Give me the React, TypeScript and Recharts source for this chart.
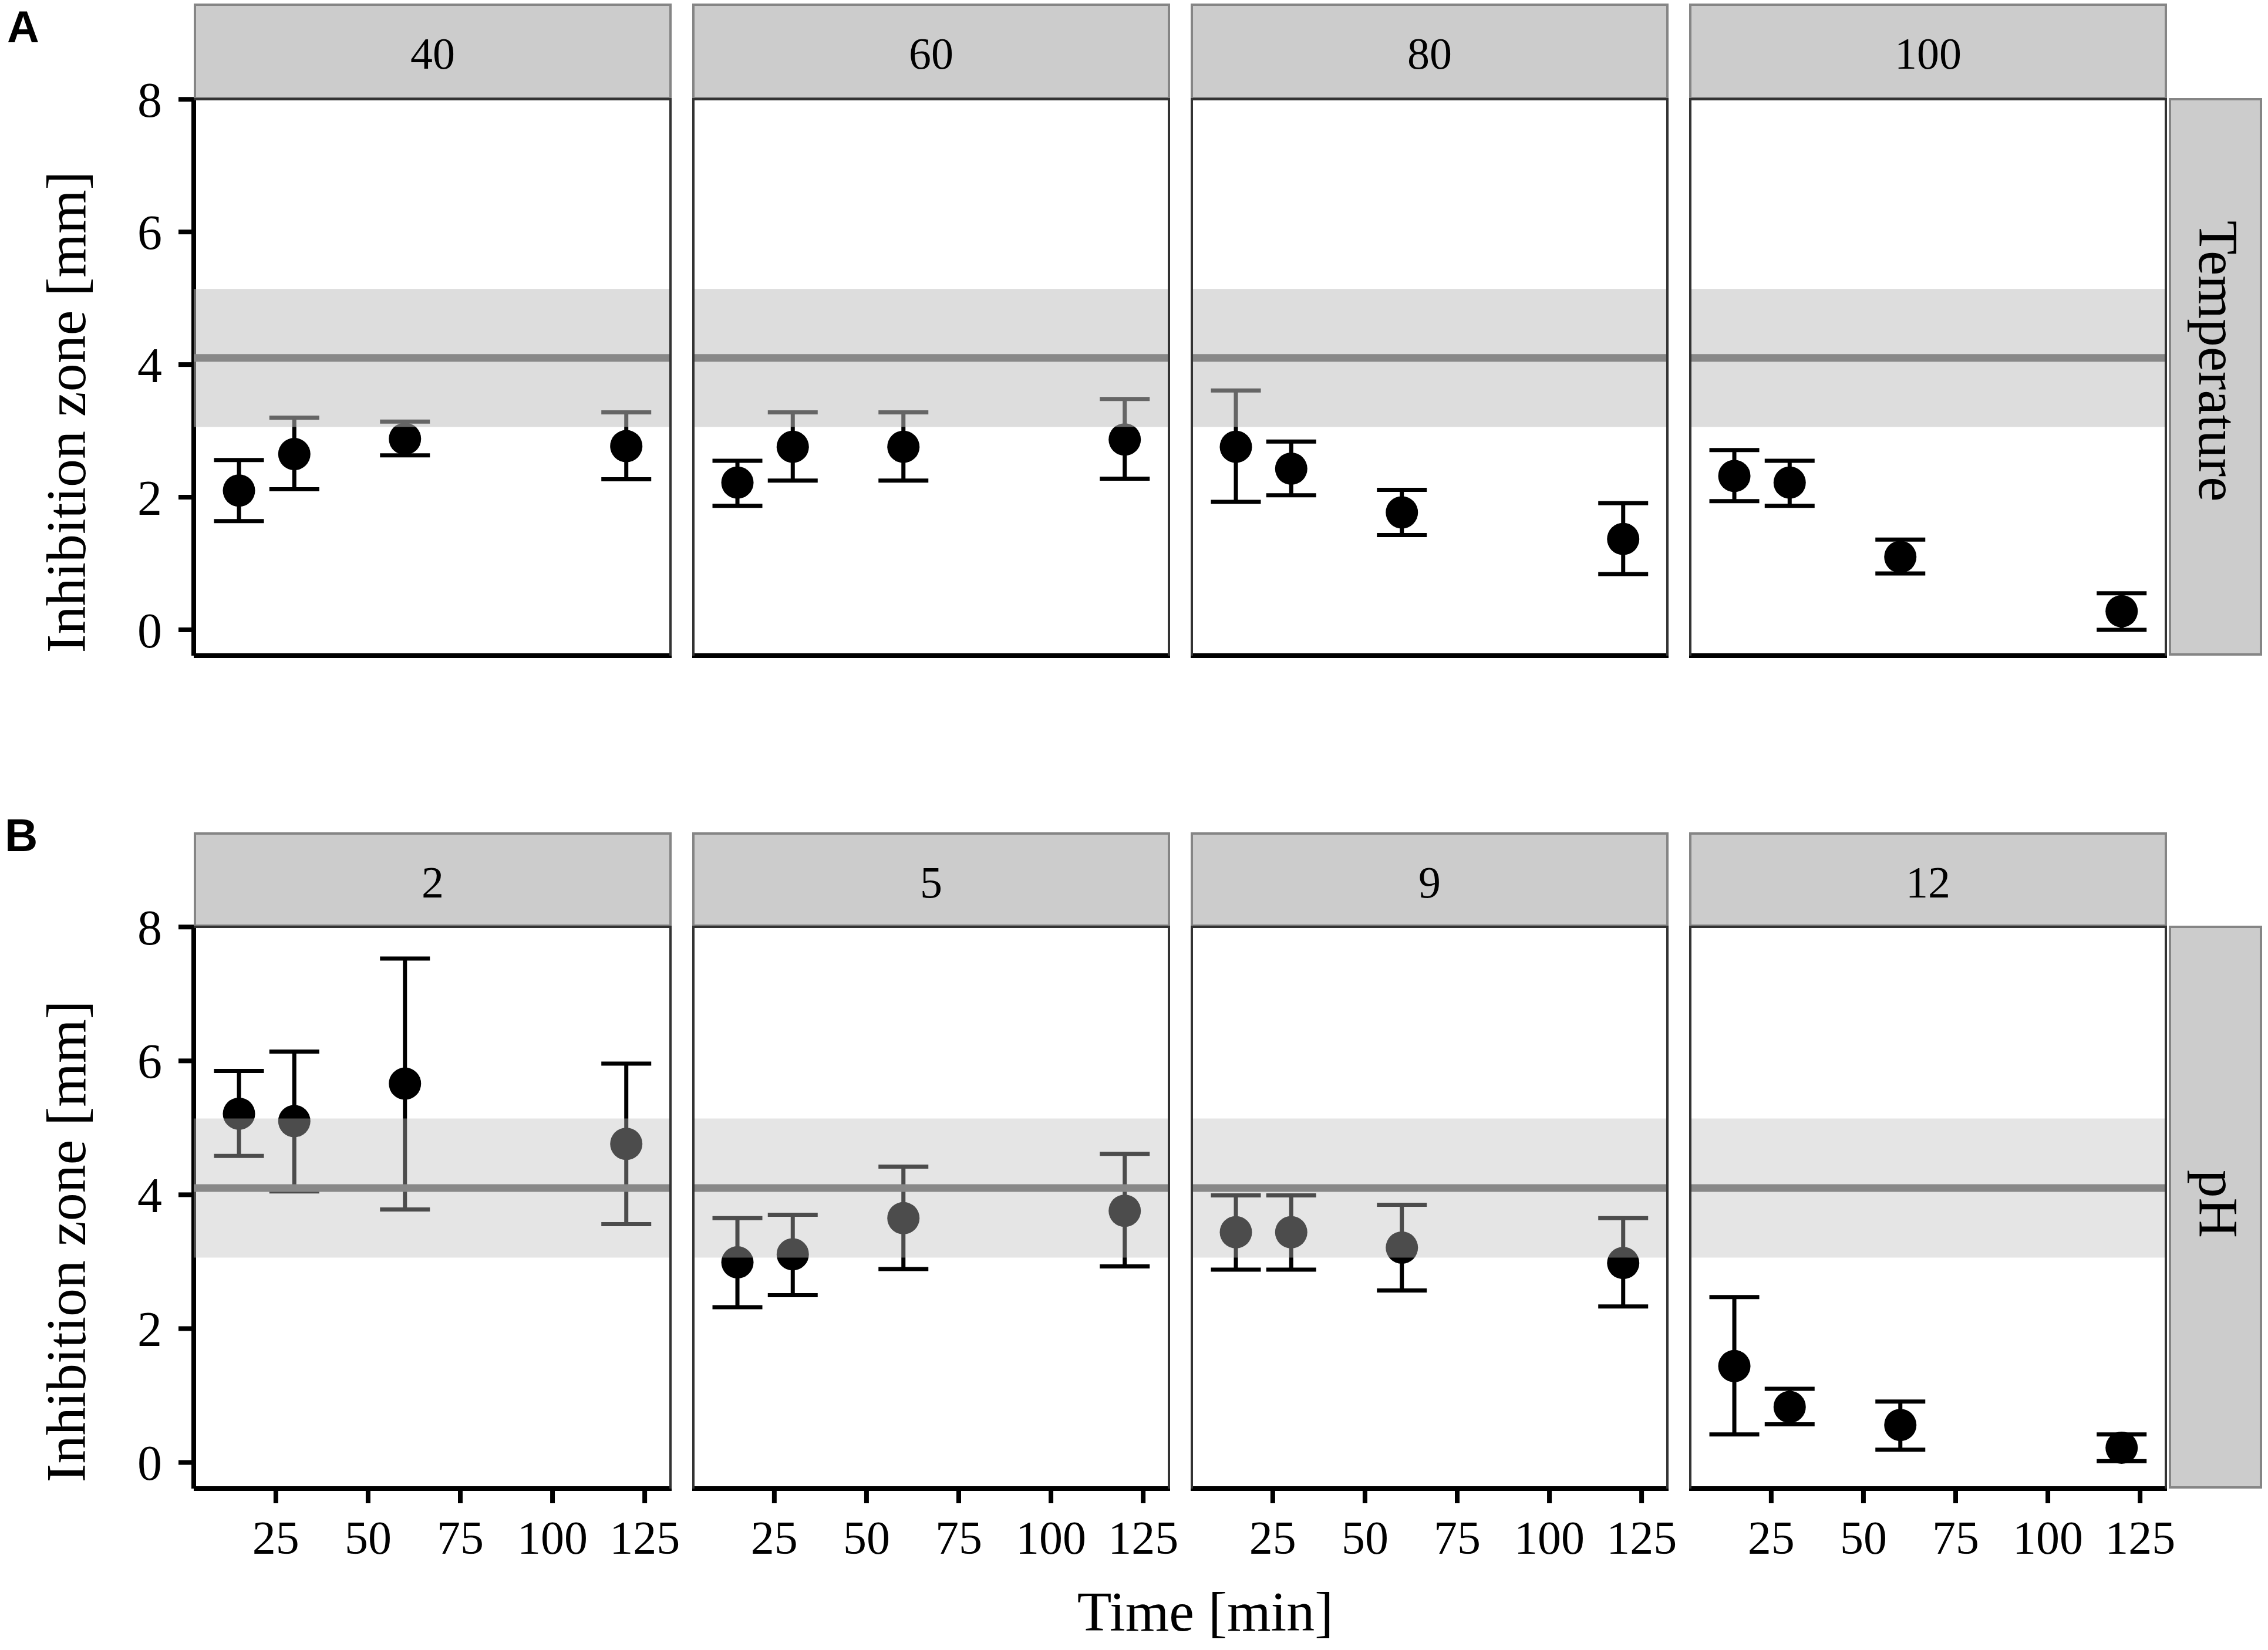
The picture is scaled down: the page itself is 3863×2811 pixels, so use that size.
import React from 'react';
import { ComposedChart, Scatter, ErrorBar, XAxis, YAxis, ReferenceArea, ReferenceLine } from 'recharts';

// sampling times (min), shared by every panel
const times = [15, 30, 60, 120];
const xTicks = [25, 50, 75, 100, 125];
const yTicks = [0, 2, 4, 6, 8];

// reference zone (mean and spread of the untreated control)
const bandLow = 3.06;
const bandHigh = 5.14;
const bandMean = 4.1;

// A: temperature treatment
const tempLabels = ['40', '60', '80', '100'];
const tempMean = [
  [2.1, 2.65, 2.88, 2.77],
  [2.22, 2.76, 2.76, 2.87],
  [2.76, 2.43, 1.77, 1.37],
  [2.32, 2.22, 1.1, 0.28],
];
const tempLow = [
  [1.64, 2.12, 2.63, 2.27],
  [1.87, 2.25, 2.25, 2.28],
  [1.93, 2.03, 1.43, 0.84],
  [1.94, 1.87, 0.85, 0.0],
];
const tempHigh = [
  [2.56, 3.2, 3.14, 3.28],
  [2.55, 3.28, 3.28, 3.48],
  [3.61, 2.84, 2.11, 1.91],
  [2.71, 2.55, 1.36, 0.55],
];

// B: pH treatment
const phLabels = ['2', '5', '9', '12'];
const phMean = [
  [5.21, 5.1, 5.66, 4.76],
  [2.99, 3.11, 3.65, 3.76],
  [3.44, 3.44, 3.21, 2.98],
  [1.44, 0.83, 0.56, 0.22],
];
const phLow = [
  [4.58, 4.05, 3.78, 3.56],
  [2.32, 2.5, 2.89, 2.93],
  [2.88, 2.88, 2.57, 2.33],
  [0.42, 0.57, 0.19, 0.02],
];
const phHigh = [
  [5.85, 6.14, 7.53, 5.96],
  [3.65, 3.7, 4.42, 4.61],
  [3.99, 3.99, 3.85, 3.65],
  [2.47, 1.1, 0.91, 0.42],
];

const SERIF = '"Liberation Serif", "DejaVu Serif", serif';
const SANS = '"Liberation Sans", Arial, sans-serif';
const PANEL_W = 814;
const COL_LEFT = [330, 1179, 2028, 2877];
const AXIS_W = 140;
const AXIS_H = 140;
const PAD = 60; // room above/right of the plot so tick labels are not clipped
const X_DOMAIN = [2.74, 132.3];
const Y_DOMAIN = [-0.39, 8.02];

const rowsA = { stripTop: 6, top: 167, height: 950, bandOpacity: 0.53 };
const rowsB = { stripTop: 1418, top: 1577, height: 959, bandOpacity: 0.4 };

const Dot = (props: any) => <circle cx={props.cx} cy={props.cy} r={27.5} fill="#000" />;

interface PanelProps {
  col: number;
  top: number;
  height: number;
  mean: number[];
  low: number[];
  high: number[];
  showX: boolean;
  bandOpacity: number;
}

const Panel: React.FC<PanelProps> = ({ col, top, height, mean, low, high, showX, bandOpacity }) => {
  const rows = times.map((t, i) => ({ t, v: mean[i], err: [mean[i] - low[i], high[i] - mean[i]] }));
  const showY = col === 0;
  const axisStroke = { stroke: '#000', strokeWidth: 8 };
  return (
    <div style={{ position: 'absolute', left: COL_LEFT[col] - AXIS_W, top: top - PAD }}>
      <ComposedChart
        width={PANEL_W + AXIS_W + PAD}
        height={height + AXIS_H + PAD}
        margin={{ top: PAD, right: PAD, bottom: 0, left: 0 }}
      >
        <XAxis
          type="number"
          dataKey="t"
          domain={X_DOMAIN}
          ticks={xTicks}
          interval={0}
          allowDataOverflow
          height={AXIS_H}
          axisLine={axisStroke}
          tickLine={showX ? axisStroke : false}
          tick={showX ? { fill: '#000', fontSize: 80, fontFamily: SERIF } : false}
          tickSize={25}
          tickMargin={29}
        />
        <YAxis
          type="number"
          dataKey="v"
          domain={Y_DOMAIN}
          ticks={yTicks}
          interval={0}
          allowDataOverflow
          width={AXIS_W}
          axisLine={showY ? axisStroke : false}
          tickLine={showY ? axisStroke : false}
          tick={showY ? { fill: '#000', fontSize: 84, fontFamily: SERIF } : false}
          tickSize={26}
          tickMargin={28}
        />
        <Scatter data={rows} dataKey="v" shape={Dot} isAnimationActive={false}>
          <ErrorBar dataKey="err" direction="y" width={42.5} strokeWidth={7} stroke="#000" isAnimationActive={false} />
        </Scatter>
        <ReferenceArea y1={bandLow} y2={bandHigh} fill="#bebebe" fillOpacity={bandOpacity} stroke="none" zIndex={1500} />
        <ReferenceLine y={bandMean} stroke="#888888" strokeWidth={13} zIndex={1600} />
      </ComposedChart>
    </div>
  );
};

const RowFrame: React.FC<{ row: typeof rowsA; labels: string[]; side: string; sideCenter: number }> = ({ row, labels, side, sideCenter }) => (
  <g>
    {labels.map((lab, c) => (
      <g key={lab}>
        <rect x={COL_LEFT[c] + 2} y={row.stripTop + 2} width={PANEL_W - 4} height={row.top - row.stripTop - 2} fill="#cccccc" stroke="#858585" strokeWidth={4} />
        <text x={COL_LEFT[c] + PANEL_W / 2} y={row.stripTop + 111} textAnchor="middle" fontSize={76} fontFamily={SERIF} fill="#000">
          {lab}
        </text>
        <line x1={COL_LEFT[c]} x2={COL_LEFT[c] + PANEL_W} y1={row.top + 2} y2={row.top + 2} stroke="#333" strokeWidth={4} />
        <line x1={COL_LEFT[c] + PANEL_W - 2} x2={COL_LEFT[c] + PANEL_W - 2} y1={row.top} y2={row.top + row.height} stroke="#333" strokeWidth={4} />
        {c > 0 && <line x1={COL_LEFT[c] + 2} x2={COL_LEFT[c] + 2} y1={row.top} y2={row.top + row.height} stroke="#333" strokeWidth={4} />}
      </g>
    ))}
    <rect x={3696} y={row.top + 2} width={155} height={row.height - 4} fill="#cccccc" stroke="#858585" strokeWidth={4} />
    <text x={3746} y={sideCenter} transform={`rotate(90, 3746, ${sideCenter})`} textAnchor="middle" fontSize={95} fontFamily={SERIF} fill="#000">
      {side}
    </text>
  </g>
);

export default function App() {
  return (
    <div style={{ position: 'absolute', left: 0, top: 0, width: 3863, height: 2811, background: '#fff', overflow: 'hidden' }}>
      {tempLabels.map((lab, c) => (
        <Panel key={'a' + lab} col={c} top={rowsA.top} height={rowsA.height} mean={tempMean[c]} low={tempLow[c]} high={tempHigh[c]} showX={false} bandOpacity={rowsA.bandOpacity} />
      ))}
      {phLabels.map((lab, c) => (
        <Panel key={'b' + lab} col={c} top={rowsB.top} height={rowsB.height} mean={phMean[c]} low={phLow[c]} high={phHigh[c]} showX bandOpacity={rowsB.bandOpacity} />
      ))}
      <svg width={3863} height={2811} style={{ position: 'absolute', left: 0, top: 0, pointerEvents: 'none' }}>
        <RowFrame row={rowsA} labels={tempLabels} side="Temperature" sideCenter={615} />
        <RowFrame row={rowsB} labels={phLabels} side="pH" sideCenter={2051} />
        <text x={12} y={72} fontSize={76} fontWeight="bold" fontFamily={SANS} fill="#000">A</text>
        <text x={8} y={1450} fontSize={78} fontWeight="bold" fontFamily={SANS} fill="#000">B</text>
        <text x={145} y={702} transform="rotate(-90, 145, 702)" textAnchor="middle" fontSize={96} fontFamily={SERIF} fill="#000">
          Inhibition zone [mm]
        </text>
        <text x={145} y={2115} transform="rotate(-90, 145, 2115)" textAnchor="middle" fontSize={96} fontFamily={SERIF} fill="#000">
          Inhibition zone [mm]
        </text>
        <text x={2053} y={2778} textAnchor="middle" fontSize={96} fontFamily={SERIF} fill="#000">
          Time [min]
        </text>
      </svg>
    </div>
  );
}
